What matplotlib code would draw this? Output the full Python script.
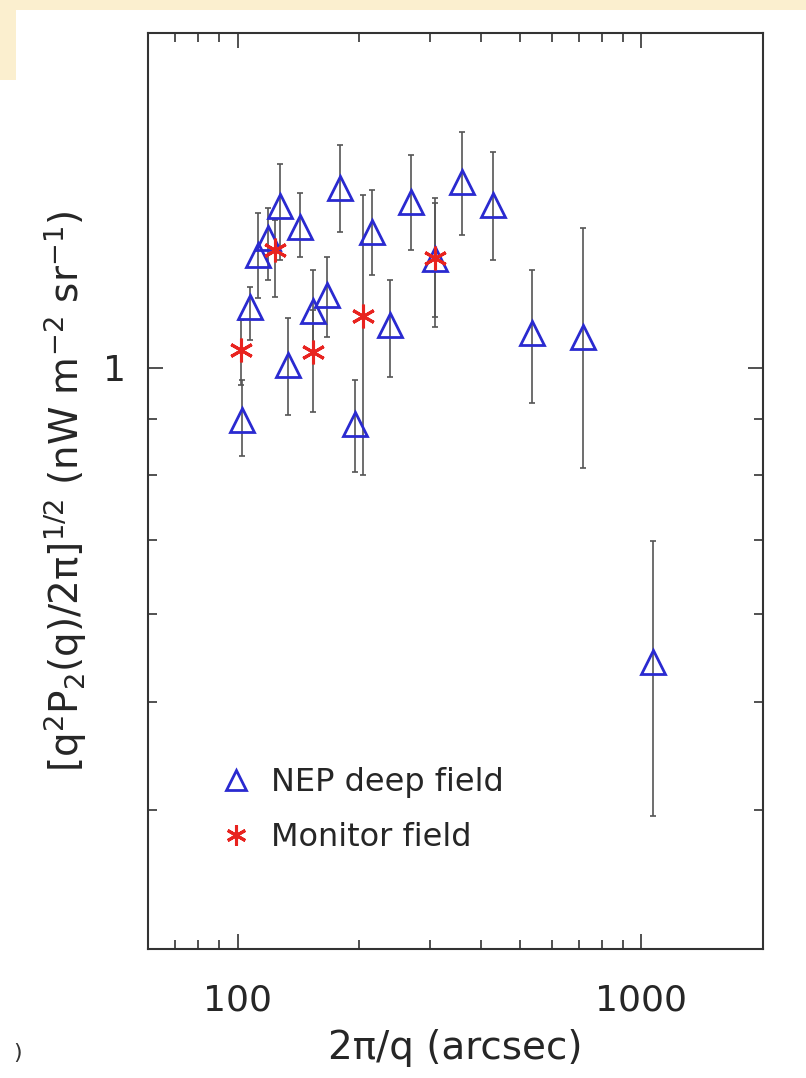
import matplotlib
matplotlib.use("Agg")
import matplotlib.pyplot as plt
from matplotlib import ticker
from matplotlib.patches import Rectangle

# ---- data ----
nep_x  = [102.5, 107.3, 112.3, 118.9, 127.3, 133.2, 142.7, 153.7, 166.4, 179.3,
          195.3, 215.1, 238.4, 268.7, 308.2, 359.4, 428.9, 535.8, 716.6, 1068.0]
nep_y  = [0.898, 1.135, 1.264, 1.309, 1.399, 1.006, 1.339, 1.125, 1.163, 1.452,
          0.889, 1.325, 1.093, 1.410, 1.253, 1.470, 1.401, 1.075, 1.066, 0.544]
nep_hi = [0.975, 1.183, 1.379, 1.392, 1.526, 1.109, 1.437, 1.225, 1.258, 1.587,
          0.975, 1.445, 1.200, 1.554, 1.422, 1.630, 1.564, 1.225, 1.336, 0.698]
nep_lo = [0.832, 1.060, 1.156, 1.200, 1.250, 0.907, 1.258, 1.030, 1.066, 1.325,
          0.806, 1.212, 0.981, 1.277, 1.089, 1.317, 1.251, 0.930, 0.813, 0.395]

mon_x  = [101.9, 123.7, 153.7, 204.4, 308.2]
mon_y  = [1.038, 1.277, 1.032, 1.114, 1.255]
mon_hi = [1.104, 1.359, 1.128, 1.430, 1.407]
mon_lo = [0.965, 1.158, 0.913, 0.801, 1.111]

x_ticks = [100, 1000]
y_ticks = [1]
y_minor = [0.3, 0.4, 0.5, 0.6, 0.7, 0.8, 0.9]

labels = ["NEP deep field", "Monitor field"]

plt.rcParams['font.family'] = ['DejaVu Sans']
plt.rcParams['mathtext.default'] = 'regular'

W, H = 806, 1078
fig = plt.figure(figsize=(W / 100, H / 100), dpi=100)
fig.patch.set_facecolor('white')

# beige page remnants
beige = '#fbefcf'
fig.patches.append(Rectangle((0, 1 - 10 / H), 1, 10 / H, transform=fig.transFigure,
                             facecolor=beige, edgecolor='none', zorder=0))
fig.patches.append(Rectangle((0, 1 - 80 / H), 16 / W, 80 / H, transform=fig.transFigure,
                             facecolor=beige, edgecolor='none', zorder=0))
fig.text(18 / W, 1 - 1053 / H, ")", fontsize=16, color='#333333', ha='center', va='center')

ax = fig.add_axes([148 / W, (H - 949) / H, 615 / W, 916 / H])
ax.set_xscale('log')
ax.set_yscale('log')
ax.set_xlim(60, 2000)
ax.set_ylim(0.3, 2.0)

err_color = '#555555'
blue = '#2a2ad0'
red = '#e8231f'
txt = '#262626'

def yerr(y, lo, hi):
    return [[a - b for a, b in zip(y, lo)], [c - a for a, c in zip(y, hi)]]

ax.errorbar(mon_x, mon_y, yerr=yerr(mon_y, mon_lo, mon_hi), fmt='none',
            ecolor=err_color, elinewidth=1.2, capsize=2.5, capthick=1.2, zorder=2)
ax.errorbar(nep_x, nep_y, yerr=yerr(nep_y, nep_lo, nep_hi), fmt='none',
            ecolor=err_color, elinewidth=1.2, capsize=2.5, capthick=1.2, zorder=2)

h1, = ax.plot(nep_x, nep_y, linestyle='none', marker='^', markersize=17,
              markerfacecolor='none', markeredgecolor=blue, markeredgewidth=2.0,
              zorder=3, label=labels[0])
h2, = ax.plot(mon_x, mon_y, linestyle='none', marker=(6, 2, 0), markersize=17,
              markeredgecolor=red, markeredgewidth=2.2, zorder=4, label=labels[1])

leg = ax.legend(handles=[h1, h2], loc='upper left', bbox_to_anchor=(0.07, 0.23),
                frameon=False, numpoints=1, handlelength=1.0, handletextpad=0.6,
                labelspacing=0.75, fontsize=23, markerscale=0.85)
for t in leg.get_texts():
    t.set_color(txt)

ax.xaxis.set_major_locator(ticker.FixedLocator(x_ticks))
ax.xaxis.set_major_formatter(ticker.FuncFormatter(lambda v, _: f"{v:g}"))
ax.xaxis.set_minor_locator(ticker.LogLocator(base=10, subs=range(2, 10)))
ax.xaxis.set_minor_formatter(ticker.NullFormatter())
ax.yaxis.set_major_locator(ticker.FixedLocator(y_ticks))
ax.yaxis.set_major_formatter(ticker.FuncFormatter(lambda v, _: f"{v:g}"))
ax.yaxis.set_minor_locator(ticker.FixedLocator(y_minor))
ax.yaxis.set_minor_formatter(ticker.NullFormatter())

spine_c = '#333333'
for s in ax.spines.values():
    s.set_color(spine_c)
    s.set_linewidth(1.5)

ax.tick_params(which='both', direction='in', top=True, right=True, color=spine_c,
               width=1.2, labelsize=26, labelcolor=txt)
ax.tick_params(which='major', length=11)
ax.tick_params(which='minor', length=6.5)
ax.tick_params(axis='x', which='major', pad=25)
ax.tick_params(axis='y', which='major', pad=16)

ax.set_xlabel("2π/q (arcsec)", fontsize=28, color=txt, labelpad=8)
ax.set_ylabel(r"[q$^{2}$P$_{2}$(q)/2π]$^{1/2}$ (nW m$^{-2}$ sr$^{-1}$)",
              fontsize=28, color=txt, labelpad=10)

fig.savefig("out.png", dpi=100, facecolor='white')
